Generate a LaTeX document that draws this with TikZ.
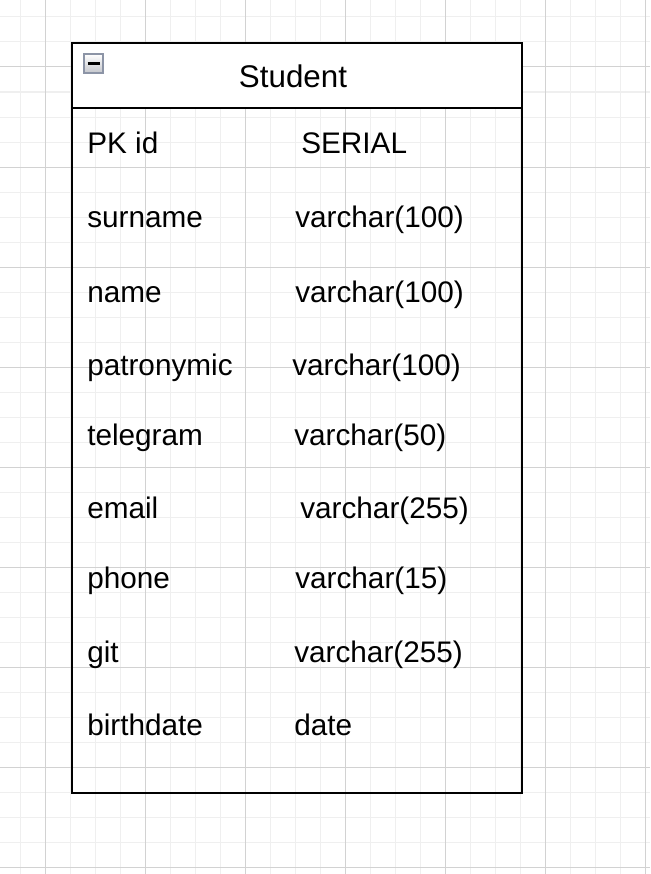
\documentclass[tikz,border=0pt]{standalone}
\usepackage{fontspec}
\setmainfont{Liberation Sans}
\definecolor{gridlight}{HTML}{EFEFEF}
\definecolor{griddark}{HTML}{D2D2D2}
\definecolor{iconedge}{HTML}{8C94A6}
\definecolor{iconfill}{HTML}{C4C6CC}
\tikzset{
  fieldname/.style={anchor=base west, inner sep=0pt, font=\fontsize{22.3}{26}\selectfont},
  fieldtype/.style={anchor=base west, inner sep=0pt, font=\fontsize{22.3}{26}\selectfont},
  tableedge/.style={line width=1.5pt, black}
}
\begin{document}
\begin{tikzpicture}[x=0.75pt, y=-0.75pt]
\useasboundingbox (0,0) rectangle (650,874);
\fill[white] (0,0) rectangle (650,874);
% background grid
\foreach \x in {20,45,...,645} \draw[gridlight, line width=0.75pt] (\x,0) --++(0,874);
\foreach \y in {17,42,...,867} \draw[gridlight, line width=0.75pt] (0,\y) --++(650,0);
\foreach \x in {45,145,...,645} \draw[griddark, line width=0.75pt] (\x,0) --++(0,874);
\foreach \y in {67,167,...,867} \draw[griddark, line width=0.75pt] (0,\y) --++(650,0);
% table
\coordinate (NW) at (72,43);
\coordinate (SE) at (522,793);
\coordinate (HL) at (72,108);
\coordinate (HR) at (522,108);
\fill[white] (NW) rectangle (HR);
\draw[tableedge] (NW) rectangle (SE);
\draw[tableedge] (HL) -- (HR);
% collapse icon
\shade[top color=white, bottom color=iconfill, draw=iconedge, line width=1.5pt] (84,54) rectangle (103,73);
\draw[black, line width=2pt] (87.5,63.5) -- (99.5,63.5);
\node[anchor=base, inner sep=0pt, font=\fontsize{23.5}{28}\selectfont] (title) at (293,88) {Student};
\foreach \f/\t/\xt/\yb [count=\i] in {PK id/SERIAL/301/153, surname/varchar(100)/295/227,
  name/varchar(100)/295/302, patronymic/varchar(100)/292/375, telegram/varchar(50)/294/445,
  email/varchar(255)/300/518, phone/varchar(15)/295/588, git/varchar(255)/294/662,
  birthdate/date/294/735} {
 \node[fieldname] (f\i) at (87,\yb) {\f};
 \node[fieldtype] (t\i) at (\xt,\yb) {\t};
}
\end{tikzpicture}
\end{document}
